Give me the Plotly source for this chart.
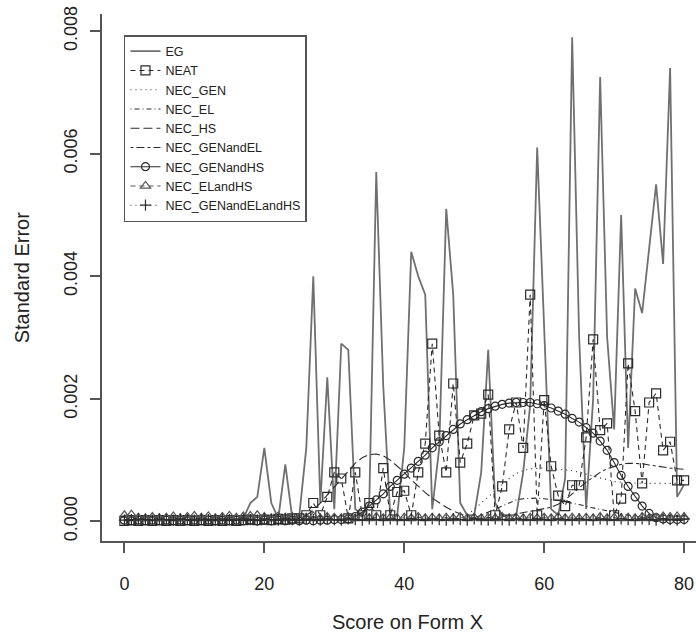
import plotly.graph_objects as go

score = list(range(0, 81))

eg = [0.00002, 0.00003, 0.00002, 0.00002, 0.00003, 0.00002, 0.00002, 0.00003, 0.00002, 0.00003,
      0.00002, 0.00003, 0.00002, 0.00003, 0.00002, 0.00003, 0.00004, 0.00005, 0.0003, 0.0004,
      0.0012, 0.0003, 0.00005, 0.00093, 0.00005, 0.0001, 0.0012, 0.0040, 0.0003, 0.00235,
      0.0002, 0.0029, 0.0028, 0.0002, 0.0001, 0.0003, 0.0057, 0.0022, 0.0001, 0.0001,
      0.0012, 0.0044, 0.0040, 0.0037, 0.0002, 0.0012, 0.0051, 0.0037, 0.0003, 0.0001,
      0.0001, 0.0008, 0.0028, 0.0003, 0.0001, 0.0001, 0.0001, 0.0008, 0.0019, 0.0061,
      0.0030, 0.0002, 0.0001, 0.0007, 0.0079, 0.0030, 0.0002, 0.0020, 0.00725, 0.0030,
      0.0015, 0.0050, 0.0012, 0.0038, 0.0034, 0.0045, 0.0055, 0.0042, 0.0074, 0.0004,
      0.0006]

neat = [0.00001, 0.00002, 0.00001, 0.00002, 0.00001, 0.00002, 0.00001, 0.00002, 0.00001, 0.00002,
        0.00001, 0.00002, 0.00001, 0.00002, 0.00001, 0.00002, 0.00001, 0.00002, 0.00003, 0.00002,
        0.00003, 0.00002, 0.00004, 0.00003, 0.00005, 0.00005, 0.0001, 0.0003, 0.0001, 0.0004,
        0.0008, 0.0007, 0.00005, 0.0008, 0.0001, 0.0003, 0.0001, 0.00087, 0.0001, 0.00048,
        0.0005, 0.0001, 0.0008, 0.00127, 0.0029, 0.0014, 0.0008, 0.00225, 0.00096, 0.00127,
        0.00173, 0.00176, 0.00207, 0.0001, 0.00057, 0.0015, 0.00194, 0.0012, 0.0037, 0.0001,
        0.00198, 0.0009, 0.00042, 0.00025, 0.00059, 0.00059, 0.00137, 0.00297, 0.00149, 0.0016,
        0.0001, 0.00037, 0.00258, 0.0018, 0.00062, 0.00194, 0.00209, 0.00116, 0.0013, 0.00067,
        0.00067]

nec_gen = [0.00002, 0.00001, 0.00002, 0.00001, 0.00002, 0.00001, 0.00002, 0.00001, 0.00002, 0.00001,
           0.00002, 0.00001, 0.00002, 0.00001, 0.00002, 0.00001, 0.00002, 0.00001, 0.00002, 0.00001,
           0.00002, 0.00001, 0.00002, 0.00001, 0.00002, 0.00001, 0.00002, 0.00001, 0.00002, 0.00001,
           0.00002, 0.00001, 0.00002, 0.00001, 0.00002, 0.00001, 0.00002, 0.00001, 0.00002, 0.00001,
           0.00002, 0.00001, 0.00002, 0.00001, 0.00002, 0.00002, 0.00003, 0.00003, 0.00005, 0.0001,
           0.0002, 0.0003, 0.0004, 0.0005, 0.0006, 0.0007, 0.00078, 0.00083, 0.00086, 0.00087,
           0.00087, 0.00086, 0.00085, 0.00084, 0.00083, 0.0008, 0.00077, 0.00073, 0.0007, 0.00067,
           0.00065, 0.00064, 0.00063, 0.00063, 0.00062, 0.00062, 0.00062, 0.00062, 0.00062, 0.00062,
           0.00062]

nec_el = [0.00003, 0.00002, 0.00003, 0.00002, 0.00003, 0.00002, 0.00003, 0.00002, 0.00003, 0.00002,
          0.00003, 0.00002, 0.00003, 0.00002, 0.00003, 0.00002, 0.00003, 0.00002, 0.00003, 0.00002,
          0.00003, 0.00002, 0.00003, 0.00002, 0.00003, 0.00002, 0.00003, 0.00002, 0.00003, 0.00002,
          0.00003, 0.00002, 0.00003, 0.00002, 0.00003, 0.00002, 0.00003, 0.00002, 0.00003, 0.00002,
          0.00003, 0.00002, 0.00003, 0.00002, 0.00003, 0.00002, 0.00003, 0.00002, 0.00003, 0.00004,
          0.00006, 0.0001, 0.00015, 0.0002, 0.00026, 0.00031, 0.00035, 0.00037, 0.00038, 0.00038,
          0.00037, 0.00036, 0.00034, 0.00032, 0.0003, 0.00028, 0.00025, 0.00022, 0.0002, 0.00018,
          0.00015, 0.00012, 0.0001, 0.00008, 0.00006, 0.00005, 0.00004, 0.00004, 0.00003, 0.00003,
          0.00003]

nec_hs = [0.00001, 0.00002, 0.00001, 0.00002, 0.00001, 0.00002, 0.00001, 0.00002, 0.00001, 0.00002,
          0.00001, 0.00002, 0.00001, 0.00002, 0.00001, 0.00002, 0.00001, 0.00002, 0.00001, 0.00002,
          0.00002, 0.00002, 0.00003, 0.00003, 0.00004, 0.00005, 0.0001, 0.00018, 0.0003, 0.00043,
          0.00057, 0.0007, 0.00083, 0.00095, 0.00104, 0.00109, 0.0011, 0.00107, 0.001, 0.0009,
          0.0008, 0.00068, 0.00057, 0.00047, 0.00038, 0.0003, 0.00023, 0.00017, 0.00012, 0.00008,
          0.00005, 0.00004, 0.00003, 0.00002, 0.00002, 0.00002, 0.00002, 0.00002, 0.00002, 0.00002,
          0.00002, 0.00002, 0.00002, 0.00002, 0.00002, 0.00002, 0.00002, 0.00002, 0.00002, 0.00002,
          0.00002, 0.00002, 0.00002, 0.00002, 0.00002, 0.00002, 0.00002, 0.00002, 0.00002, 0.00002,
          0.00002]

nec_gen_el = [0.00002, 0.00003, 0.00002, 0.00003, 0.00002, 0.00003, 0.00002, 0.00003, 0.00002, 0.00003,
              0.00002, 0.00003, 0.00002, 0.00003, 0.00002, 0.00003, 0.00002, 0.00003, 0.00002, 0.00003,
              0.00002, 0.00003, 0.00002, 0.00003, 0.00002, 0.00003, 0.00002, 0.00003, 0.00002, 0.00003,
              0.00002, 0.00003, 0.00002, 0.00003, 0.00002, 0.00003, 0.00002, 0.00003, 0.00002, 0.00003,
              0.00002, 0.00003, 0.00002, 0.00003, 0.00002, 0.00003, 0.00002, 0.00003, 0.00002, 0.00003,
              0.00003, 0.00004, 0.00005, 0.00006, 0.00008, 0.0001, 0.00012, 0.00014, 0.00016, 0.00018,
              0.0002, 0.00023, 0.00028, 0.00035, 0.00045, 0.00055, 0.00064, 0.00072, 0.0008, 0.00086,
              0.0009, 0.00093, 0.00095, 0.00095, 0.00094, 0.00092, 0.0009, 0.00088, 0.00087, 0.00086,
              0.00085]

nec_gen_hs = [0.00002, 0.00001, 0.00002, 0.00001, 0.00002, 0.00001, 0.00002, 0.00001, 0.00002, 0.00001,
              0.00002, 0.00001, 0.00002, 0.00001, 0.00002, 0.00001, 0.00002, 0.00001, 0.00002, 0.00001,
              0.00002, 0.00001, 0.00002, 0.00001, 0.00002, 0.00001, 0.00002, 0.00001, 0.00002, 0.00002,
              0.00003, 0.00003, 0.00004, 0.00008, 0.00015, 0.00025, 0.00035, 0.00045, 0.00057, 0.00067,
              0.00077, 0.00087, 0.00098, 0.00108, 0.0012, 0.0013, 0.0014, 0.0015, 0.00159, 0.00166,
              0.00173, 0.00179, 0.00184, 0.00188, 0.00191, 0.00193, 0.00194, 0.00194, 0.00194, 0.00192,
              0.00189, 0.00185, 0.0018, 0.00175, 0.00168, 0.00162, 0.00153, 0.00144, 0.00131, 0.00116,
              0.00096, 0.00075, 0.00057, 0.0004, 0.00025, 0.00013, 0.00006, 0.00004, 0.00003, 0.00003,
              0.00003]

nec_el_hs = [0.0001, 0.00011, 0.00006, 0.00005, 0.00007, 0.00005, 0.00006, 0.00008, 0.00005, 0.00007,
             0.00009, 0.00006, 0.00008, 0.00005, 0.00007, 0.00009, 0.00006, 0.00008, 0.00009, 0.0001,
             0.00007, 0.00005, 0.00008, 0.00006, 0.00007, 0.00005, 0.00006, 0.00008, 0.00005, 0.00007,
             0.00006, 0.00005, 0.00007, 0.00005, 0.00006, 0.00005, 0.00007, 0.00005, 0.00006, 0.00005,
             0.00006, 0.00005, 0.00007, 0.00005, 0.00006, 0.00005, 0.00006, 0.00005, 0.00007, 0.00005,
             0.00006, 0.00005, 0.00006, 0.00005, 0.00007, 0.00005, 0.00006, 0.00005, 0.00006, 0.00005,
             0.00006, 0.00005, 0.00007, 0.00005, 0.00006, 0.00005, 0.00006, 0.00005, 0.00007, 0.00005,
             0.00006, 0.00005, 0.00006, 0.00005, 0.00007, 0.00005, 0.00006, 0.00008, 0.00007, 0.00008,
             0.00007]

nec_gen_el_hs = [0.00002, 0.00003, 0.00004, 0.00003, 0.00002, 0.00004, 0.00003, 0.00002, 0.00004, 0.00003,
                 0.00002, 0.00004, 0.00003, 0.00002, 0.00004, 0.00003, 0.00002, 0.00004, 0.00003, 0.00002,
                 0.00004, 0.00003, 0.00002, 0.00004, 0.00003, 0.00002, 0.00004, 0.00003, 0.00002, 0.00004,
                 0.00003, 0.00002, 0.00004, 0.00003, 0.00002, 0.00004, 0.00003, 0.00002, 0.00004, 0.00003,
                 0.00002, 0.00004, 0.00003, 0.00002, 0.00004, 0.00003, 0.00002, 0.00004, 0.00003, 0.00002,
                 0.00004, 0.00003, 0.00002, 0.00004, 0.00003, 0.00002, 0.00004, 0.00003, 0.00002, 0.00004,
                 0.00003, 0.00002, 0.00004, 0.00003, 0.00002, 0.00004, 0.00003, 0.00002, 0.00004, 0.00003,
                 0.00002, 0.00004, 0.00003, 0.00002, 0.00004, 0.00003, 0.00002, 0.00004, 0.00003, 0.00002,
                 0.00004]

x_ticks = [0, 20, 40, 60, 80]
y_ticks = [0.0, 0.002, 0.004, 0.006, 0.008]

DARK = "#2b2b2b"
GRAY = "#707070"

series = [
    ("EG", eg, dict(color=GRAY, width=1.8, dash="solid"), None),
    ("NEAT", neat, dict(color=DARK, width=1.1, dash="5px,4px"), dict(symbol="square-open", size=9)),
    ("NEC_GEN", nec_gen, dict(color=DARK, width=1.1, dash="1px,4px"), None),
    ("NEC_EL", nec_el, dict(color=DARK, width=1.1, dash="1px,3px,5px,3px"), None),
    ("NEC_HS", nec_hs, dict(color=DARK, width=1.1, dash="9px,4px"), None),
    ("NEC_GENandEL", nec_gen_el, dict(color=DARK, width=1.1, dash="3px,3px,8px,3px"), None),
    ("NEC_GENandHS", nec_gen_hs, dict(color=DARK, width=1.1, dash="solid"), dict(symbol="circle-open", size=8)),
    ("NEC_ELandHS", nec_el_hs, dict(color="#555", width=1.1, dash="5px,4px"), dict(symbol="triangle-up-open", size=9)),
    ("NEC_GENandELandHS", nec_gen_el_hs, dict(color=DARK, width=1.1, dash="1px,4px"), dict(symbol="cross-thin-open", size=8)),
]

fig = go.Figure()
for name, vals, line, marker in series:
    if marker is None:
        fig.add_trace(go.Scatter(x=score, y=vals, name=name, mode="lines", line=line))
    else:
        mk = dict(marker)
        mk["color"] = line["color"]
        mk["line"] = dict(color=line["color"], width=1.2)
        fig.add_trace(go.Scatter(x=score, y=vals, name=name, mode="lines+markers",
                                 line=line, marker=mk))

TICK_FONT = dict(family="Liberation Sans, Arial", size=18, color="#222")

fig.update_layout(
    width=696, height=640,
    margin=dict(l=102, r=0, t=14, b=99),
    paper_bgcolor="white", plot_bgcolor="white",
    showlegend=True,
    legend=dict(x=0.037, y=0.96, xanchor="left", yanchor="top",
                bgcolor="white", bordercolor="#555", borderwidth=1.5,
                font=dict(family="Liberation Sans, Arial", size=12.5, color="#222"),
                tracegroupgap=0),
    xaxis=dict(range=[-3.2, 81.7], tickvals=x_ticks, ticktext=[str(v) for v in x_ticks],
               showgrid=False, zeroline=False, showline=True, linecolor="#555", linewidth=1.5,
               ticks="outside", ticklen=10, tickwidth=1.5, tickcolor="#555",
               tickfont=TICK_FONT, ticklabelstandoff=16),
    yaxis=dict(range=[-0.00032, 0.00828], tickvals=y_ticks,
               ticktext=["%.3f" % v for v in y_ticks],
               showgrid=False, zeroline=False, showline=True, linecolor="#555", linewidth=1.5,
               ticks="outside", ticklen=10, tickwidth=1.5, tickcolor="#555",
               tickangle=-90, tickfont=TICK_FONT, ticklabelstandoff=6),
    annotations=[
        dict(text="Score on Form X", xref="paper", yref="paper", x=0.515, y=-0.154,
             showarrow=False, xanchor="center", yanchor="middle",
             font=dict(family="Liberation Sans, Arial", size=20, color="#222")),
        dict(text="Standard Error", xref="paper", yref="paper", x=-0.135, y=0.5,
             showarrow=False, xanchor="center", yanchor="middle", textangle=-90,
             font=dict(family="Liberation Sans, Arial", size=20, color="#222")),
    ],
)

fig.write_html("out.html")
